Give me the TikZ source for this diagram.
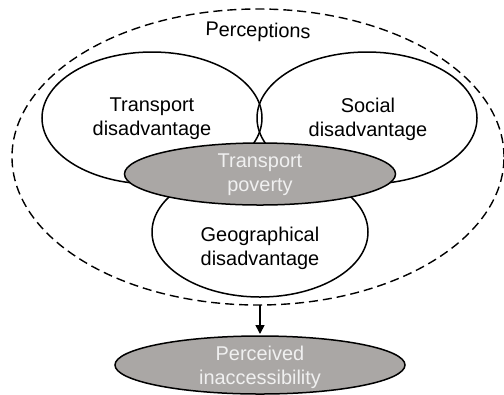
\documentclass[tikz,border=0pt]{standalone}
\usepackage{fontspec}
\setmainfont{Liberation Sans}
\usetikzlibrary{shapes.geometric,arrows.meta}
\definecolor{pgray}{HTML}{AAA7A5}
\definecolor{ptext}{HTML}{F0F0F0}
\begin{document}
\begin{tikzpicture}[x=1bp,y=-1bp,
  oval/.style={ellipse,draw,line width=1.5bp,inner sep=0pt,outer sep=0pt},
  graybox/.style={oval,fill=pgray},
  lbl/.style={align=center,font=\fontsize{20}{24}\selectfont,inner sep=0pt},
  wlbl/.style={lbl,text=ptext}]
\useasboundingbox (0,0) rectangle (504,394);
\node[oval,line width=1.4bp,dash pattern=on 9bp off 5bp,minimum width=492bp,minimum height=296bp] (outer) at (258,157) {};
\node[oval,minimum width=220bp,minimum height=132bp] (td) at (152,118) {};
\node[oval,minimum width=220bp,minimum height=132bp] (sd) at (367,118) {};
\node[oval,fill=white,minimum width=216bp,minimum height=130bp] (gd) at (260,232) {};
\node[graybox,minimum width=271bp,minimum height=62bp] (tp) at (260,174) {};
\node[graybox,minimum width=290bp,minimum height=58bp] (pi) at (260,365) {};
\node[lbl,rotate=-1.5] (tperc) at (258,32) {Perceptions};
\node[lbl] (ttd) at (152,119) {Transport\\disadvantage};
\node[lbl] (tsd) at (368,119) {Social\\disadvantage};
\node[wlbl] (ttp) at (260,175) {Transport\\poverty};
\node[lbl] (tgd) at (260,248) {Geographical\\disadvantage};
\node[wlbl] (tpi) at (260,367) {Perceived\\inaccessibility};
\draw[line width=1.6bp,-{Triangle[length=9bp,width=9bp]},shorten >=2bp] (pi.north |- outer.south) -- (pi.north);
\end{tikzpicture}
\end{document}
